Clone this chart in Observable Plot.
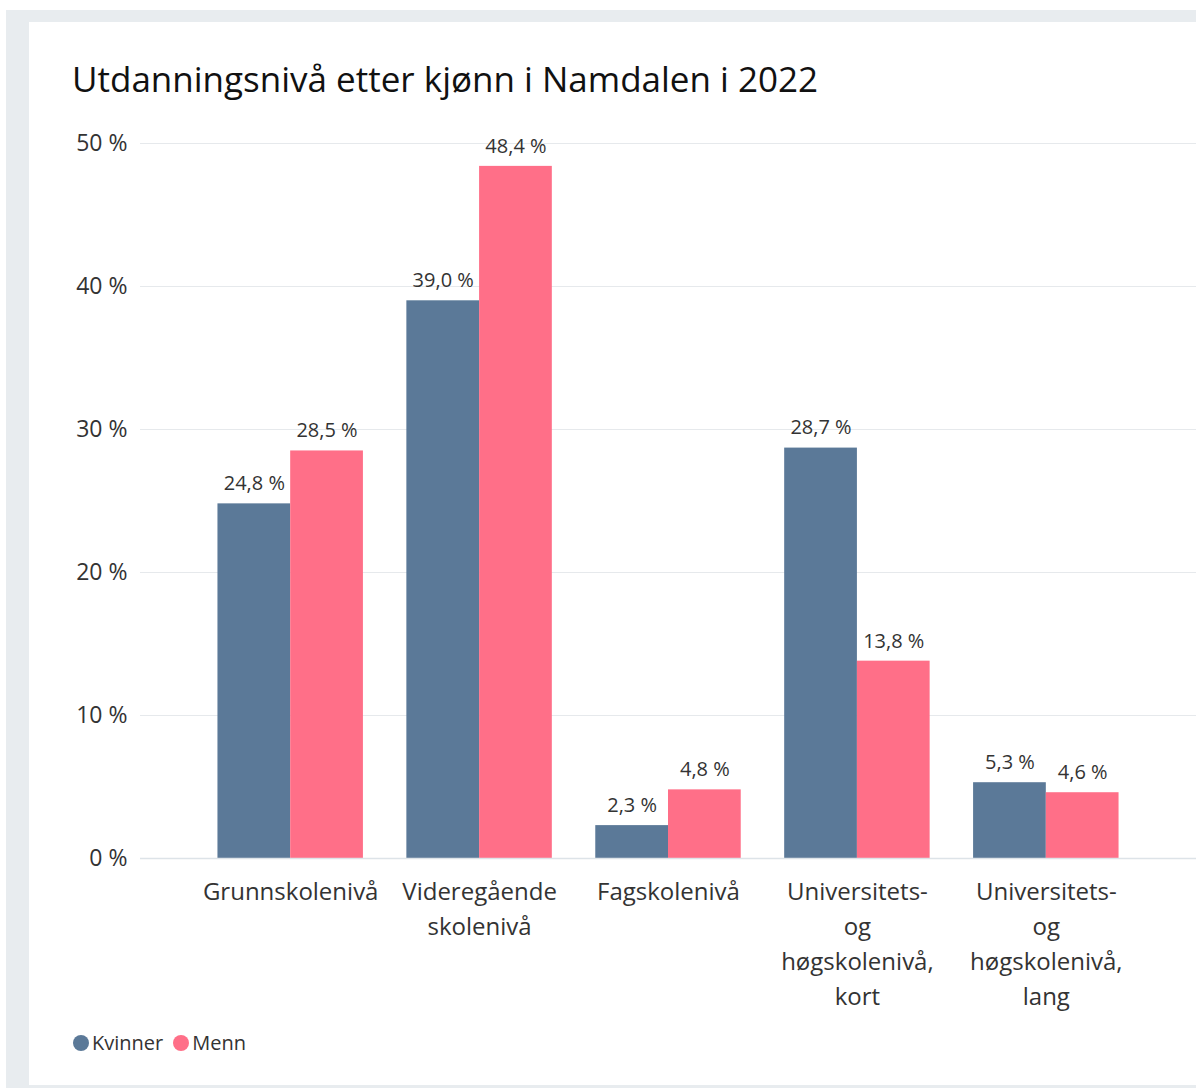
<!DOCTYPE html>
<html>
<head>
<meta charset="utf-8">
<script src="https://cdn.jsdelivr.net/npm/d3@7"></script>
<script src="https://cdn.jsdelivr.net/npm/@observablehq/plot@0.6"></script>
<style>
  html, body { margin: 0; padding: 0; background: #fff; }
  body { position: relative; width: 1196px; height: 1088px; overflow: hidden; font-family: "Open Sans", "Noto Sans", sans-serif; }
  #outer { position: absolute; left: 6px; top: 10px; right: 0; bottom: 0; background: #e8ecef; }
  #panel { position: absolute; left: 29px; top: 22px; right: 0; height: 1063px; background: #fff; }
  #title { position: absolute; left: 72px; top: 55px; margin: 0; font-size: 35px; font-weight: 400; color: #111; white-space: nowrap; }
  #chart { position: absolute; left: 0; top: 120px; }
  #legend { position: absolute; left: 73px; top: 1029px; display: flex; align-items: center; font-size: 20px; color: #333; }
  .item { display: flex; align-items: center; margin-right: 10px; }
  .dot { width: 16px; height: 16px; border-radius: 50%; margin-right: 3px; }
</style>
</head>
<body>
<div id="outer"></div>
<div id="panel"></div>
<h2 id="title">Utdanningsnivå etter kjønn i Namdalen i 2022</h2>
<div id="chart"></div>
<div id="legend"></div>
<script>
const categories = ["Grunnskolenivå", "Videregående skolenivå", "Fagskolenivå", "Universitets- og høgskolenivå, kort", "Universitets- og høgskolenivå, lang"];
const tickLabels = ["Grunnskolenivå", "Videregående\nskolenivå", "Fagskolenivå", "Universitets-\nog\nhøgskolenivå,\nkort", "Universitets-\nog\nhøgskolenivå,\nlang"];
const kvinner = [24.8, 39.0, 2.3, 28.7, 5.3];
const menn = [28.5, 48.4, 4.8, 13.8, 4.6];
const series = ["Kvinner", "Menn"];
const colors = ["#5b7998", "#ff6f88"];
const yTicks = [0, 10, 20, 30, 40, 50];

const data = [];
categories.forEach((c, i) => {
  data.push({category: c, sex: "Kvinner", value: kvinner[i]});
  data.push({category: c, sex: "Menn", value: menn[i]});
});

const W = 1196, ML = 140, MR = 0;
const padInner = 0.23, padOuter = 0.41;
const step = (W - ML - MR) / (categories.length - padInner + 2 * padOuter);
const bw = step * (1 - padInner);
const half = bw / 2;

const fmt = v => v.toFixed(1).replace(".", ",") + " %";
const K = data.filter(d => d.sex === "Kvinner");
const M = data.filter(d => d.sex === "Menn");

const chart = Plot.plot({
  width: W,
  height: 930,
  marginLeft: ML,
  marginRight: MR,
  marginTop: 23,
  marginBottom: 192,
  style: {fontFamily: "'Open Sans', 'Noto Sans', sans-serif", background: "transparent", color: "#333"},
  x: {domain: categories, paddingInner: padInner, paddingOuter: padOuter, round: false, label: null},
  y: {domain: [0, 50], label: null},
  marks: [
    Plot.gridY(yTicks, {stroke: "#e6e9ec", strokeOpacity: 1}),
    Plot.barY(K, {x: "category", y: "value", fill: colors[0], insetRight: half}),
    Plot.barY(M, {x: "category", y: "value", fill: colors[1], insetLeft: half}),
    Plot.ruleY([0], {stroke: "#dde3e8", strokeWidth: 1.5}),
    Plot.text(K, {x: "category", y: "value", text: d => fmt(d.value), dx: -half / 2, dy: -20, fontSize: 20, fill: "#333"}),
    Plot.text(M, {x: "category", y: "value", text: d => fmt(d.value), dx: half / 2, dy: -20, fontSize: 20, fill: "#333"}),
    Plot.axisY(yTicks, {tickSize: 0, tickPadding: 13, fontSize: 23, fill: "#333", tickFormat: d => d + " %", label: null}),
    Plot.axisX({tickSize: 0, tickPadding: 17, fontSize: 24, lineHeight: 1.46, fill: "#333", tickFormat: d => tickLabels[categories.indexOf(d)], label: null})
  ]
});
document.getElementById("chart").appendChild(chart);

const legend = document.getElementById("legend");
series.forEach((s, i) => {
  const it = document.createElement("div");
  it.className = "item";
  const dot = document.createElement("span");
  dot.className = "dot";
  dot.style.background = colors[i];
  const t = document.createElement("span");
  t.textContent = s;
  it.appendChild(dot); it.appendChild(t);
  legend.appendChild(it);
});
</script>
</body>
</html>
